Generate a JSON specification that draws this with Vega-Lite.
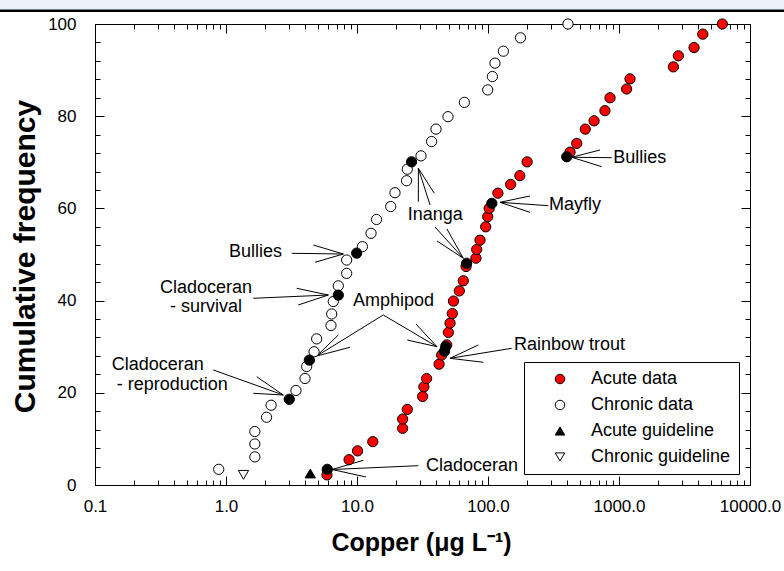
{
  "$schema": "https://vega.github.io/schema/vega-lite/v6.json",
  "width": 655,
  "height": 461,
  "autosize": {"type": "none"},
  "padding": {"left": 95, "top": 24, "right": 34, "bottom": 86},
  "background": "white",
  "datasets": {
    "pts": [
      {"x": 5.9, "y": 2.2, "s": "Acute data"},
      {"x": 8.7, "y": 5.5, "s": "Acute data"},
      {"x": 10.1, "y": 7.4, "s": "Acute data"},
      {"x": 13.2, "y": 9.4, "s": "Acute data"},
      {"x": 22.3, "y": 12.3, "s": "Acute data"},
      {"x": 22.3, "y": 14.3, "s": "Acute data"},
      {"x": 24.2, "y": 16.4, "s": "Acute data"},
      {"x": 31.7, "y": 19.2, "s": "Acute data"},
      {"x": 32.4, "y": 21.3, "s": "Acute data"},
      {"x": 34.0, "y": 23.1, "s": "Acute data"},
      {"x": 42.3, "y": 26.2, "s": "Acute data"},
      {"x": 44.3, "y": 28.2, "s": "Acute data"},
      {"x": 48.4, "y": 30.4, "s": "Acute data"},
      {"x": 49.8, "y": 33.1, "s": "Acute data"},
      {"x": 51.3, "y": 35.1, "s": "Acute data"},
      {"x": 53.4, "y": 37.2, "s": "Acute data"},
      {"x": 54.5, "y": 39.9, "s": "Acute data"},
      {"x": 60.4, "y": 42.1, "s": "Acute data"},
      {"x": 64.8, "y": 44.3, "s": "Acute data"},
      {"x": 68.0, "y": 47.4, "s": "Acute data"},
      {"x": 80.9, "y": 49.2, "s": "Acute data"},
      {"x": 82.0, "y": 51.1, "s": "Acute data"},
      {"x": 86.9, "y": 53.1, "s": "Acute data"},
      {"x": 96.0, "y": 56.0, "s": "Acute data"},
      {"x": 99.5, "y": 58.2, "s": "Acute data"},
      {"x": 102.0, "y": 60.0, "s": "Acute data"},
      {"x": 119, "y": 63.3, "s": "Acute data"},
      {"x": 149, "y": 65.2, "s": "Acute data"},
      {"x": 175, "y": 67.1, "s": "Acute data"},
      {"x": 199, "y": 70.1, "s": "Acute data"},
      {"x": 423, "y": 72.2, "s": "Acute data"},
      {"x": 476, "y": 74.1, "s": "Acute data"},
      {"x": 553, "y": 77.2, "s": "Acute data"},
      {"x": 645, "y": 79.0, "s": "Acute data"},
      {"x": 781, "y": 81.2, "s": "Acute data"},
      {"x": 854, "y": 84.0, "s": "Acute data"},
      {"x": 1143, "y": 85.9, "s": "Acute data"},
      {"x": 1213, "y": 88.1, "s": "Acute data"},
      {"x": 2600, "y": 90.7, "s": "Acute data"},
      {"x": 2840, "y": 93.1, "s": "Acute data"},
      {"x": 3740, "y": 94.9, "s": "Acute data"},
      {"x": 4360, "y": 97.8, "s": "Acute data"},
      {"x": 6150, "y": 100, "s": "Acute data"},
      {"x": 0.88, "y": 3.4, "s": "Chronic data"},
      {"x": 1.66, "y": 6.1, "s": "Chronic data"},
      {"x": 1.66, "y": 8.9, "s": "Chronic data"},
      {"x": 1.66, "y": 11.6, "s": "Chronic data"},
      {"x": 2.04, "y": 14.7, "s": "Chronic data"},
      {"x": 2.21, "y": 17.3, "s": "Chronic data"},
      {"x": 3.42, "y": 20.5, "s": "Chronic data"},
      {"x": 4.01, "y": 23.1, "s": "Chronic data"},
      {"x": 4.13, "y": 25.7, "s": "Chronic data"},
      {"x": 4.70, "y": 28.9, "s": "Chronic data"},
      {"x": 4.92, "y": 31.7, "s": "Chronic data"},
      {"x": 6.33, "y": 34.6, "s": "Chronic data"},
      {"x": 6.41, "y": 37.1, "s": "Chronic data"},
      {"x": 6.59, "y": 39.8, "s": "Chronic data"},
      {"x": 7.2, "y": 43.2, "s": "Chronic data"},
      {"x": 8.34, "y": 45.9, "s": "Chronic data"},
      {"x": 8.34, "y": 48.8, "s": "Chronic data"},
      {"x": 11.0, "y": 51.7, "s": "Chronic data"},
      {"x": 12.8, "y": 54.6, "s": "Chronic data"},
      {"x": 14.1, "y": 57.6, "s": "Chronic data"},
      {"x": 18.1, "y": 60.4, "s": "Chronic data"},
      {"x": 19.5, "y": 63.4, "s": "Chronic data"},
      {"x": 23.9, "y": 66.0, "s": "Chronic data"},
      {"x": 24.2, "y": 68.5, "s": "Chronic data"},
      {"x": 30.8, "y": 71.4, "s": "Chronic data"},
      {"x": 37.1, "y": 74.5, "s": "Chronic data"},
      {"x": 40.1, "y": 77.2, "s": "Chronic data"},
      {"x": 49.5, "y": 79.9, "s": "Chronic data"},
      {"x": 66.0, "y": 83.0, "s": "Chronic data"},
      {"x": 99.5, "y": 85.7, "s": "Chronic data"},
      {"x": 108, "y": 88.6, "s": "Chronic data"},
      {"x": 113, "y": 91.5, "s": "Chronic data"},
      {"x": 131, "y": 94.1, "s": "Chronic data"},
      {"x": 177, "y": 97.0, "s": "Chronic data"},
      {"x": 408, "y": 100, "s": "Chronic data"},
      {"x": 4.4, "y": 2.5, "s": "Acute guideline"},
      {"x": 1.36, "y": 2.2, "s": "Chronic guideline"},
      {"x": 3.04, "y": 18.6, "s": "NZ species"},
      {"x": 4.33, "y": 27.1, "s": "NZ species"},
      {"x": 7.2, "y": 41.2, "s": "NZ species"},
      {"x": 9.94, "y": 50.3, "s": "NZ species"},
      {"x": 26.1, "y": 70.1, "s": "NZ species"},
      {"x": 5.93, "y": 3.4, "s": "NZ species"},
      {"x": 46.5, "y": 29.0, "s": "NZ species"},
      {"x": 47.5, "y": 30.0, "s": "NZ species"},
      {"x": 68.7, "y": 48.1, "s": "NZ species"},
      {"x": 107, "y": 61.1, "s": "NZ species"},
      {"x": 399, "y": 71.2, "s": "NZ species"}
    ],
    "lines": [
      {"x": 3.173, "y": 50.26, "x2": 7.86, "y2": 50.11},
      {"x": 7.86, "y": 50.11, "x2": 4.64, "y2": 52.06},
      {"x": 7.86, "y": 50.11, "x2": 4.78, "y2": 48.31},
      {"x": 1.616, "y": 40.50, "x2": 6.04, "y2": 41.21},
      {"x": 6.04, "y": 41.21, "x2": 3.465, "y2": 42.67},
      {"x": 6.04, "y": 41.21, "x2": 3.564, "y2": 39.05},
      {"x": 15.88, "y": 36.88, "x2": 4.925, "y2": 27.98},
      {"x": 4.925, "y": 27.98, "x2": 7.20, "y2": 32.54},
      {"x": 4.925, "y": 27.98, "x2": 8.84, "y2": 29.87},
      {"x": 15.88, "y": 36.88, "x2": 40.8, "y2": 30.0},
      {"x": 40.8, "y": 30.0, "x2": 28.2, "y2": 34.92},
      {"x": 40.8, "y": 30.0, "x2": 24.2, "y2": 31.45},
      {"x": 0.800, "y": 24.95, "x2": 2.737, "y2": 19.52},
      {"x": 2.737, "y": 19.52, "x2": 1.715, "y2": 23.49},
      {"x": 2.737, "y": 19.52, "x2": 1.616, "y2": 19.89},
      {"x": 29.4, "y": 4.19, "x2": 6.45, "y2": 3.36},
      {"x": 6.45, "y": 3.36, "x2": 11.17, "y2": 5.36},
      {"x": 6.45, "y": 3.36, "x2": 11.71, "y2": 1.74},
      {"x": 151.7, "y": 29.65, "x2": 51.3, "y2": 27.48},
      {"x": 51.3, "y": 27.48, "x2": 84.3, "y2": 30.37},
      {"x": 51.3, "y": 27.48, "x2": 92.1, "y2": 26.62},
      {"x": 29.4, "y": 61.45, "x2": 29.4, "y2": 68.70},
      {"x": 29.4, "y": 68.70, "x2": 36.1, "y2": 60.74},
      {"x": 29.4, "y": 68.70, "x2": 38.9, "y2": 63.28},
      {"x": 48.6, "y": 55.53, "x2": 64.8, "y2": 49.18},
      {"x": 64.8, "y": 49.18, "x2": 39.4, "y2": 55.97},
      {"x": 64.8, "y": 49.18, "x2": 40.8, "y2": 52.93},
      {"x": 288.5, "y": 60.59, "x2": 123.5, "y2": 61.32},
      {"x": 123.5, "y": 61.32, "x2": 209.2, "y2": 62.69},
      {"x": 123.5, "y": 61.32, "x2": 209.2, "y2": 59.15},
      {"x": 879.7, "y": 71.0, "x2": 435.5, "y2": 71.09},
      {"x": 435.5, "y": 71.09, "x2": 716, "y2": 72.67},
      {"x": 435.5, "y": 71.09, "x2": 738, "y2": 69.05}
    ],
    "labels": [
      {"x": 1.054, "y": 50.6, "t": "Bullies"},
      {"x": 0.3134, "y": 42.67, "t": "Cladoceran"},
      {"x": 0.3737, "y": 38.55, "t": "- survival"},
      {"x": 9.32, "y": 39.91, "t": "Amphipod"},
      {"x": 0.134, "y": 26.03, "t": "Cladoceran"},
      {"x": 0.1464, "y": 21.69, "t": "- reproduction"},
      {"x": 33.6, "y": 4.12, "t": "Cladoceran"},
      {"x": 157.9, "y": 30.37, "t": "Rainbow trout"},
      {"x": 24.4, "y": 58.57, "t": "Inanga"},
      {"x": 292.2, "y": 60.74, "t": "Mayfly"},
      {"x": 904.6, "y": 71.0, "t": "Bullies"}
    ]
  },
  "resolve": {"axis": {"x": "independent", "y": "independent"}},
  "layer": [
    {
      "data": {"values": [{}]},
      "mark": {"type": "rect", "fill": "#eaf1f9", "clip": false},
      "encoding": {
        "x": {"datum": 0.0188, "type": "quantitative", "scale": {"type": "log", "domain": [0.1, 10000], "nice": false}, "axis": null},
        "x2": {"datum": 18200},
        "y": {"datum": 102.9, "type": "quantitative", "scale": {"domain": [0, 100], "nice": false, "zero": false}, "axis": null},
        "y2": {"datum": 105.5}
      }
    },
    {
      "data": {"values": [{}]},
      "mark": {"type": "rule", "stroke": "black", "strokeWidth": 2.5, "clip": false},
      "encoding": {
        "x": {"datum": 0.0188, "type": "quantitative", "axis": null},
        "x2": {"datum": 18200},
        "y": {"datum": 102.9, "type": "quantitative", "axis": null}
      }
    },
    {
      "data": {"name": "lines"},
      "mark": {"type": "rule", "stroke": "black", "strokeWidth": 1},
      "encoding": {
        "x": {"field": "x", "type": "quantitative", "axis": {
          "orient": "top", "labels": false, "title": null, "domain": true,
          "values": [0.1,0.2,0.3,0.4,0.5,0.6,0.7,0.8,0.9,1,2,3,4,5,6,7,8,9,10,20,30,40,50,60,70,80,90,100,200,300,400,500,600,700,800,900,1000,2000,3000,4000,5000,6000,7000,8000,9000,10000],
          "tickSize": {"condition": {"test": "indexof([0.1,1,10,100,1000,10000], datum.value) >= 0", "value": -9}, "value": -5}
        }},
        "x2": {"field": "x2"},
        "y": {"field": "y", "type": "quantitative", "axis": {
          "orient": "right", "labels": false, "title": null, "domain": true,
          "values": [0,4,8,12,16,20,24,28,32,36,40,44,48,52,56,60,64,68,72,76,80,84,88,92,96,100],
          "tickSize": {"condition": {"test": "datum.value % 20 == 0", "value": -9}, "value": -5}
        }},
        "y2": {"field": "y2"}
      }
    },
    {
      "data": {"name": "pts"},
      "mark": {"type": "point", "filled": true, "strokeWidth": 1, "opacity": 1, "size": 105},
      "encoding": {
        "x": {"field": "x", "type": "quantitative", "axis": {
          "orient": "bottom", "title": "Copper (μg L⁻¹)",
          "values": [0.1,0.2,0.3,0.4,0.5,0.6,0.7,0.8,0.9,1,2,3,4,5,6,7,8,9,10,20,30,40,50,60,70,80,90,100,200,300,400,500,600,700,800,900,1000,2000,3000,4000,5000,6000,7000,8000,9000,10000],
          "labelExpr": "indexof([0.1,1,10,100,1000,10000], datum.value) >= 0 ? format(datum.value, '.1f') : ''",
          "tickSize": {"condition": {"test": "indexof([0.1,1,10,100,1000,10000], datum.value) >= 0", "value": -9}, "value": -5},
          "labelPadding": 22, "labelOverlap": false, "labelFlush": false, "labelBound": false,
          "titleX": 326, "titleY": 57, "titleBaseline": "middle", "titleAlign": "center",
          "titleFont": "Liberation Sans, Arial, sans-serif", "titleFontSize": 25, "titleFontWeight": "bold"
        }},
        "y": {"field": "y", "type": "quantitative", "axis": {
          "orient": "left", "title": "Cumulative frequency",
          "values": [0,4,8,12,16,20,24,28,32,36,40,44,48,52,56,60,64,68,72,76,80,84,88,92,96,100],
          "labelExpr": "datum.value % 20 == 0 ? datum.label : ''",
          "tickSize": {"condition": {"test": "datum.value % 20 == 0", "value": -9}, "value": -5},
          "labelPadding": 28, "labelOverlap": false, "labelFlush": false, "labelBound": false,
          "titleX": -70, "titleY": 232, "titleAngle": 270, "titleBaseline": "middle", "titleAlign": "center",
          "titleFont": "Liberation Sans, Arial, sans-serif", "titleFontSize": 30, "titleFontWeight": "bold"
        }},
        "fill": {"field": "s", "type": "nominal",
          "scale": {"domain": ["Acute data", "Chronic data", "Acute guideline", "Chronic guideline", "NZ species"], "range": ["#ff0000", "#ffffff", "#000000", "#ffffff", "#000000"]},
          "legend": {"values": ["Acute data", "Chronic data", "Acute guideline", "Chronic guideline"], "title": null}},
        "stroke": {"field": "s", "type": "nominal",
          "scale": {"domain": ["Acute data", "Chronic data", "Acute guideline", "Chronic guideline", "NZ species"], "range": ["#000000", "#000000", "#000000", "#000000", "#000000"]},
          "legend": {"values": ["Acute data", "Chronic data", "Acute guideline", "Chronic guideline"], "title": null}},
        "shape": {"field": "s", "type": "nominal",
          "scale": {"domain": ["Acute data", "Chronic data", "Acute guideline", "Chronic guideline", "NZ species"], "range": ["circle", "circle", "triangle-up", "triangle-down", "circle"]},
          "legend": {"values": ["Acute data", "Chronic data", "Acute guideline", "Chronic guideline"], "title": null}}
      }
    },
    {
      "data": {"name": "labels"},
      "mark": {"type": "text", "align": "left", "baseline": "middle", "font": "Liberation Sans, Arial, sans-serif", "fontSize": 18, "color": "black"},
      "encoding": {
        "x": {"field": "x", "type": "quantitative", "axis": null},
        "y": {"field": "y", "type": "quantitative", "axis": null},
        "text": {"field": "t"}
      }
    }
  ],
  "config": {
    "view": {"stroke": "black", "strokeWidth": 1},
    "axis": {
      "grid": false, "domainColor": "black", "domainWidth": 1, "tickColor": "black", "tickWidth": 1,
      "labelColor": "black", "titleColor": "black",
      "labelFont": "Liberation Sans, Arial, sans-serif", "labelFontSize": 17
    },
    "legend": {
      "orient": "none", "legendX": 429, "legendY": 338,
      "strokeColor": "black", "fillColor": "white", "padding": 8,
      "symbolOffset": 19, "symbolSize": 90, "symbolStrokeColor": "black", "symbolStrokeWidth": 1,
      "labelOffset": 22, "labelFont": "Liberation Sans, Arial, sans-serif", "labelFontSize": 18, "labelColor": "black",
      "rowPadding": 8
    }
  }
}
